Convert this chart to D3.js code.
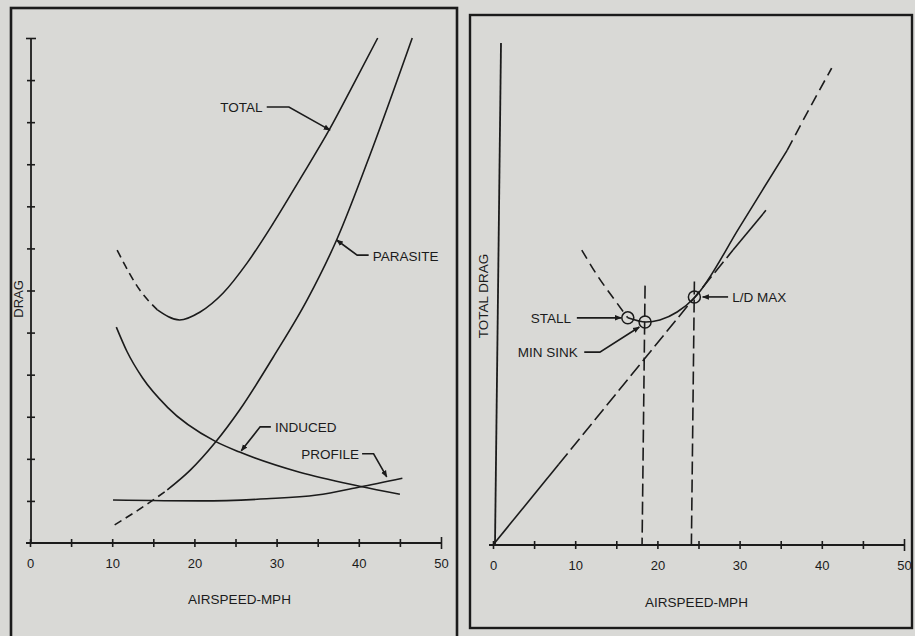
<!DOCTYPE html>
<html>
<head>
<meta charset="utf-8">
<script src="https://cdn.jsdelivr.net/npm/d3@7"></script>
<style>
  html, body { margin: 0; padding: 0; background: #d9d9d6; }
  svg { display: block; }
</style>
</head>
<body>
<svg id="chart" width="915" height="636"></svg>
<script>
// ---- data ----
const xTicks = [0, 5, 10, 15, 20, 25, 30, 35, 40, 45, 50];
const xLabels = [0, 10, 20, 30, 40, 50];
const dragTicks = [1, 2, 3, 4, 5, 6, 7, 8, 9, 10, 11, 12];

// left panel: drag components vs airspeed (mph, drag units)
const totalDashed = [[10.6, 6.96], [13.4, 6.0], [15.5, 5.54]];
const totalSolid = [[15.5, 5.54], [18.2, 5.30], [20.7, 5.49], [23.5, 5.94], [26.4, 6.65], [29.6, 7.60], [32.8, 8.63], [36.5, 9.85], [39.3, 10.88], [42.3, 12.0]];
const parasiteDashed = [[10.3, 0.43], [14.6, 0.97], [16.7, 1.26]];
const parasiteSolid = [[16.7, 1.26], [19.5, 1.73], [22.5, 2.38], [25.5, 3.16], [29.6, 4.42], [33.7, 5.77], [37.3, 7.2], [41.7, 9.4], [46.5, 12.0]];
const induced = [[10.5, 5.13], [11.8, 4.55], [13.7, 3.92], [16.7, 3.23], [22.5, 2.42], [25.5, 2.16], [32.8, 1.68], [40.1, 1.35], [45.0, 1.16]];
const profile = [[10.1, 1.02], [20.7, 1.0], [28.8, 1.05], [34.9, 1.14], [40.1, 1.33], [45.3, 1.54]];

// right panel: total drag curve
const polarDashedLow = [[10.8, 7.05], [12.8, 6.41], [14.8, 5.86], [16.4, 5.43]];
const polarSolid = [[16.4, 5.43], [18.6, 5.33], [20.3, 5.38], [22.4, 5.57], [24.6, 5.93], [30.0, 7.60], [32.8, 8.49], [35.8, 9.44]];
const polarDashedHigh = [[35.8, 9.44], [38.6, 10.47], [41.2, 11.4]];
const tangentSolidLow = [[0, 0], [8, 1.93]];
const tangentDashed = [[8, 1.93], [29.2, 7.05]];
const tangentSolidHigh = [[29.2, 7.05], [33.2, 8.0]];
const markers = [
  { key: "stall", x: 16.4, y: 5.43 },
  { key: "minsink", x: 18.5, y: 5.33 },
  { key: "ldmax", x: 24.5, y: 5.93 }
];
const dropLines = [{ x: 18.5, top: 6.2 }, { x: 24.5, top: 6.3 }];

// annotations: text anchor + leader path (data units of each panel)
const leftNotes = [
  { text: "TOTAL", tx: 28.3, ty: 10.36, anchor: "end", path: [[28.8, 10.36], [31.5, 10.36], [36.5, 9.81]] },
  { text: "PARASITE", tx: 41.7, ty: 6.82, anchor: "start", path: [[41.2, 6.84], [39.8, 6.84], [37.3, 7.2]] },
  { text: "INDUCED", tx: 29.8, ty: 2.76, anchor: "start", path: [[29.3, 2.76], [28.0, 2.76], [25.7, 2.19]] },
  { text: "PROFILE", tx: 33.0, ty: 2.12, anchor: "start", path: [[40.4, 2.12], [41.8, 2.12], [43.4, 1.57]] }
];
const rightNotes = [
  { text: "STALL", tx: 9.5, ty: 5.43, anchor: "end", path: [[10.2, 5.43], [15.6, 5.43]] },
  { text: "MIN SINK", tx: 10.3, ty: 4.61, anchor: "end", path: [[11.1, 4.61], [13.0, 4.61], [17.8, 5.21]] },
  { text: "L/D MAX", tx: 29.1, ty: 5.93, anchor: "start", path: [[28.6, 5.93], [25.5, 5.93]] }
];

// ---- drawing ----
const W = 915, H = 636;
const INK = "#1b1b1b";
const FONT = "'Liberation Sans', Arial, Helvetica, sans-serif";

const svg = d3.select("#chart");
svg.append("rect").attr("width", W).attr("height", H).attr("fill", "#d9d9d6");

svg.append("defs").append("marker")
  .attr("id", "arrow").attr("viewBox", "0 0 10 10")
  .attr("refX", 9).attr("refY", 5)
  .attr("markerWidth", 7).attr("markerHeight", 7)
  .attr("markerUnits", "userSpaceOnUse")
  .attr("orient", "auto")
  .append("path").attr("d", "M0,1 L10,5 L0,9 Z").attr("fill", INK);

// panel frames
svg.append("rect").attr("x", 11).attr("y", 8).attr("width", 446).attr("height", 640)
  .attr("fill", "none").attr("stroke", INK).attr("stroke-width", 2.6);
svg.append("rect").attr("x", 470).attr("y", 15).attr("width", 442).attr("height", 613)
  .attr("fill", "none").attr("stroke", INK).attr("stroke-width", 2.4);

function drawXAxis(g, x, y) {
  const ax = g.append("g")
    .attr("transform", `translate(0,${y(0)})`)
    .call(d3.axisBottom(x).tickValues(xTicks).tickSizeOuter(0)
      .tickFormat(d => xLabels.includes(d) ? d : ""));
  ax.select(".domain").remove();
  ax.append("line").attr("x1", x(0) - 4).attr("x2", x(50))
    .attr("stroke", INK).attr("stroke-width", 1.8);
  ax.selectAll(".tick line").attr("y1", d => d === 50 ? -6 : -4).attr("y2", d => d === 50 ? 6 : 4)
    .attr("stroke", INK).attr("stroke-width", 1.6);
  ax.selectAll(".tick text").attr("y", 16).attr("dy", "0.71em")
    .style("fill", INK).style("font-size", "13px").style("font-family", FONT);
  ax.attr("font-size", null).attr("font-family", null);
}

function axisTitle(g, x, yPos, text) {
  g.append("text").attr("x", x).attr("y", yPos).attr("text-anchor", "middle")
    .style("fill", INK).style("font-size", "13.5px").style("font-family", FONT)
    .text(text);
}

function curve(g, x, y, pts, dash) {
  const line = d3.line().x(d => x(d[0])).y(d => y(d[1])).curve(d3.curveMonotoneX);
  g.append("path").datum(pts).attr("d", line)
    .attr("fill", "none").attr("stroke", INK).attr("stroke-width", 1.6)
    .attr("stroke-dasharray", dash || null);
}

function notes(g, x, y, list) {
  list.forEach(n => {
    g.append("text").attr("x", x(n.tx)).attr("y", y(n.ty)).attr("dy", "0.36em")
      .attr("text-anchor", n.anchor)
      .style("fill", INK).style("font-size", "13.5px").style("font-family", FONT)
      .text(n.text);
    g.append("path").datum(n.path)
      .attr("d", d3.line().x(d => x(d[0])).y(d => y(d[1])))
      .attr("fill", "none").attr("stroke", INK).attr("stroke-width", 1.6)
      .attr("marker-end", "url(#arrow)");
  });
}

// ---------- left panel ----------
{
  const g = svg.append("g");
  const x = d3.scaleLinear().domain([0, 50]).range([30, 441]);
  const y = d3.scaleLinear().domain([0, 12]).range([543, 38]);

  // y axis with crossing ticks
  const ay = g.append("g").attr("transform", `translate(${x(0) + 1},0)`)
    .call(d3.axisLeft(y).tickValues(dragTicks).tickFormat("").tickSizeOuter(0));
  ay.select(".domain").remove();
  ay.append("line").attr("y1", y(0)).attr("y2", y(12)).attr("stroke", INK).attr("stroke-width", 1.8);
  ay.selectAll(".tick line").attr("x1", d => d === 12 ? -5 : -4).attr("x2", d => d === 12 ? 5 : 4)
    .attr("stroke", INK).attr("stroke-width", 1.6);

  drawXAxis(g, x, y);
  axisTitle(g, (x(0) + x(50)) / 2 + 4, 604, "AIRSPEED-MPH");
  g.append("text").attr("transform", `translate(23,${y(5.8)}) rotate(-90)`)
    .attr("text-anchor", "middle")
    .style("fill", INK).style("font-size", "13px").style("font-family", FONT)
    .text("DRAG");

  curve(g, x, y, totalDashed, "8,5");
  curve(g, x, y, totalSolid);
  curve(g, x, y, parasiteDashed, "8,5");
  curve(g, x, y, parasiteSolid);
  curve(g, x, y, induced);
  curve(g, x, y, profile);

  notes(g, x, y, leftNotes);
}

// ---------- right panel ----------
{
  const g = svg.append("g");
  const x = d3.scaleLinear().domain([0, 50]).range([493, 904]);
  const y = d3.scaleLinear().domain([0, 12]).range([545, 43]);

  g.append("line").attr("x1", x(0) + 2).attr("x2", x(0) + 8)
    .attr("y1", y(0)).attr("y2", y(12))
    .attr("stroke", INK).attr("stroke-width", 1.8);

  drawXAxis(g, x, y);
  axisTitle(g, (x(0) + x(50)) / 2 - 2, 607, "AIRSPEED-MPH");
  g.append("text").attr("transform", `translate(488,${y(5.95)}) rotate(-90)`)
    .attr("text-anchor", "middle")
    .style("fill", INK).style("font-size", "13.5px").style("font-family", FONT)
    .text("TOTAL DRAG");

  // vertical drop lines to the airspeed axis
  g.selectAll(".drop").data(dropLines).join("line")
    .attr("x1", d => x(d.x)).attr("x2", d => x(d.x) - 3)
    .attr("y1", d => y(d.top)).attr("y2", y(0))
    .attr("stroke", INK).attr("stroke-width", 1.6).attr("stroke-dasharray", "13,5");

  curve(g, x, y, polarDashedLow, "10,6");
  curve(g, x, y, polarSolid);
  curve(g, x, y, polarDashedHigh, "11,6");
  curve(g, x, y, tangentSolidLow);
  curve(g, x, y, tangentDashed, "14,5");
  curve(g, x, y, tangentSolidHigh);

  g.selectAll(".mark").data(markers).join("circle")
    .attr("cx", d => x(d.x)).attr("cy", d => y(d.y)).attr("r", 6)
    .attr("fill", "none").attr("stroke", INK).attr("stroke-width", 1.5);

  notes(g, x, y, rightNotes);
}
</script>
</body>
</html>
